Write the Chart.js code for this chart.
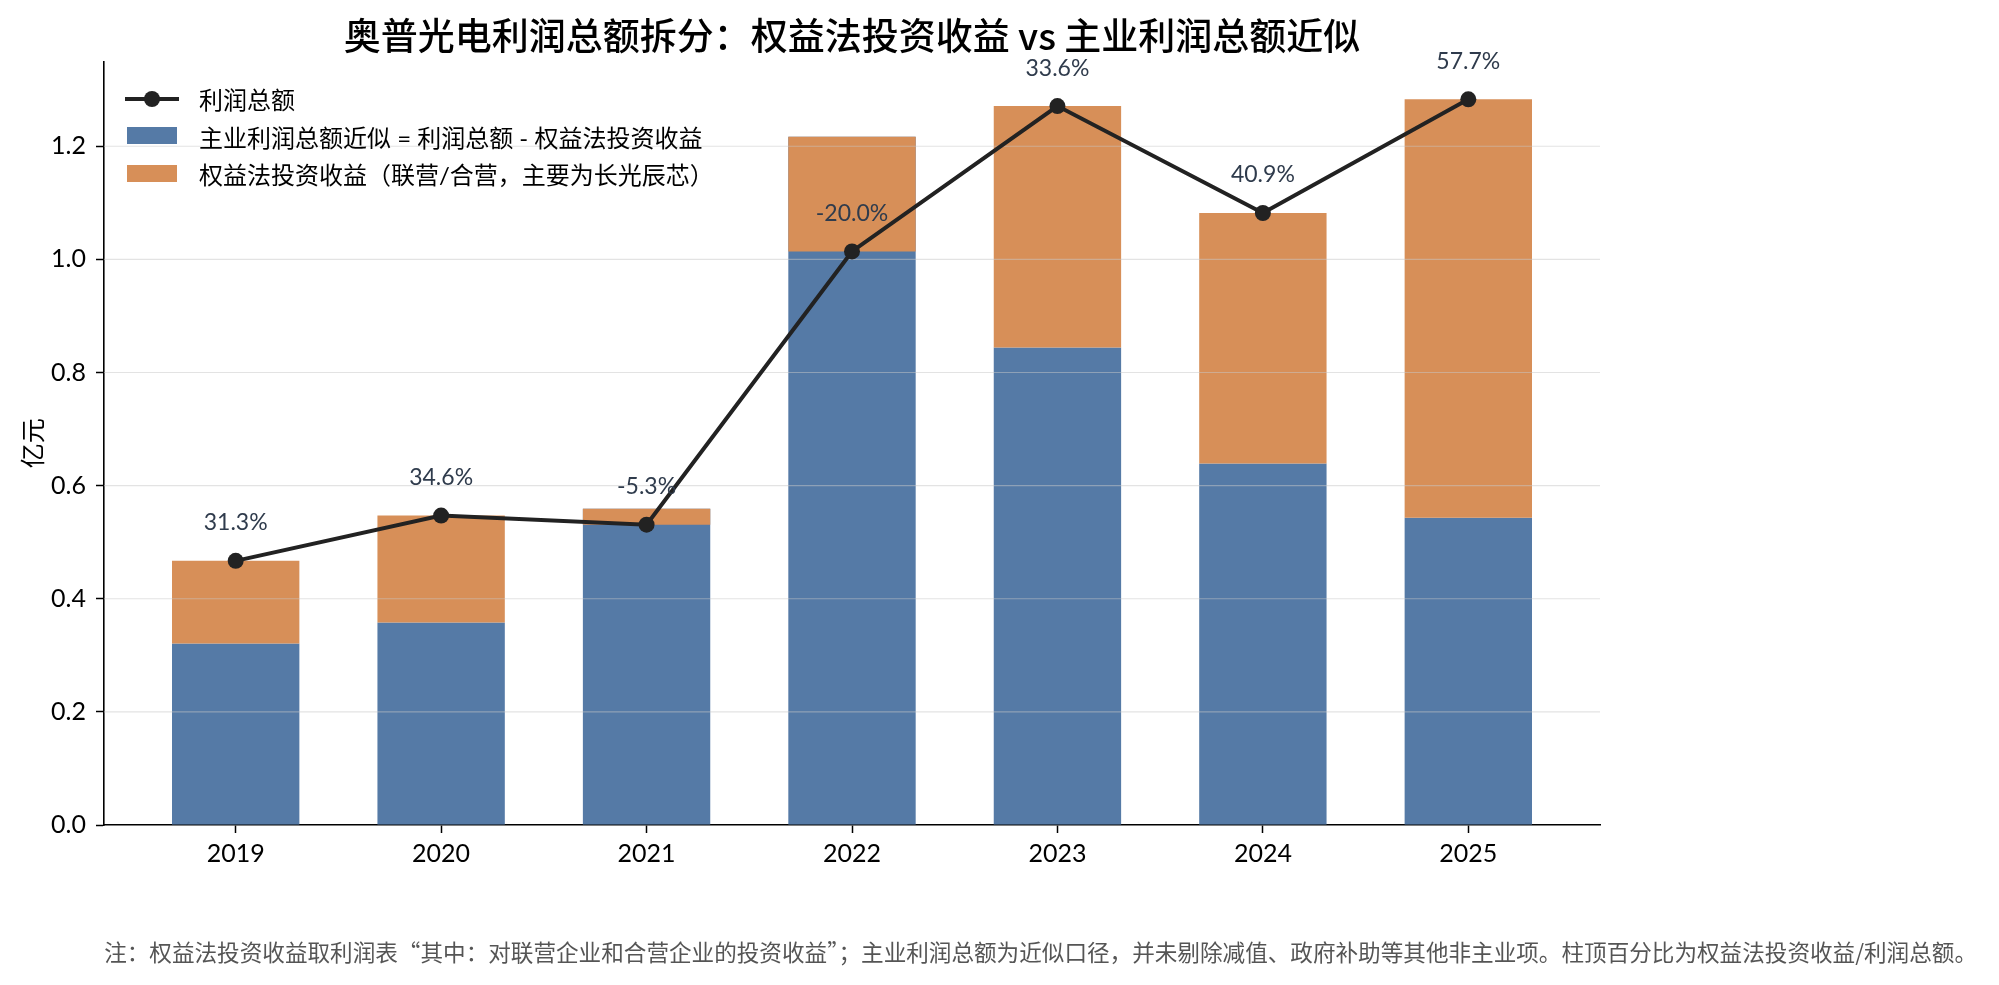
<!DOCTYPE html>
<html lang="zh">
<head>
<meta charset="UTF-8">
<title>奥普光电利润总额拆分</title>
<script src="https://cdn.jsdelivr.net/npm/chart.js"></script>
<style>
  body { margin: 0; background: #fff; }
  .wrap { position: relative; width: 1999px; height: 985px; }
  canvas { display: block; }
  .legend {
    position: absolute; left: 125px; top: 80px;
    font-family: Lato, "Noto Sans CJK SC", sans-serif; font-size: 24px; color: #000;
  }
  .legend .row { display: flex; align-items: center; height: 37.5px; white-space: nowrap; }
  .legend .mark { position: relative; width: 54px; height: 18px; margin-right: 20px; }
  .legend .patch { position: absolute; left: 2px; top: 0; width: 50px; height: 17px; }
  .legend .ln { position: absolute; left: 0; top: 7px; width: 54px; height: 4px; background: #222; }
  .legend .dot { position: absolute; left: 19px; top: 1px; width: 16px; height: 16px; border-radius: 50%; background: #222; }
  .note {
    position: absolute; right: 22px; top: 937px;
    font-family: "Noto Sans CJK SC", sans-serif; font-size: 22.6px; line-height: 30px; color: #555;
    white-space: nowrap;
  }
</style>
</head>
<body>
<div class="wrap">
  <canvas id="chart" width="1999" height="985"></canvas>
  <div class="legend" id="legend"></div>
  <div class="note">注：权益法投资收益取利润表“其中：对联营企业和合营企业的投资收益”；主业利润总额为近似口径，并未剔除减值、政府补助等其他非主业项。柱顶百分比为权益法投资收益/利润总额。</div>
</div>
<script>
const years = ['2019', '2020', '2021', '2022', '2023', '2024', '2025'];
// 亿元
const totalProfit = [0.467, 0.547, 0.531, 1.014, 1.271, 1.082, 1.283];
const coreProfit = [0.321, 0.358, 0.559, 1.217, 0.844, 0.639, 0.543];
const equityIncome = [0.146, 0.189, -0.028, -0.203, 0.427, 0.443, 0.740];
const shareLabels = ['31.3%', '34.6%', '-5.3%', '-20.0%', '33.6%', '40.9%', '57.7%'];
const yTicks = [0, 0.2, 0.4, 0.6, 0.8, 1.0, 1.2];
const seriesNames = ['利润总额', '主业利润总额近似 = 利润总额 - 权益法投资收益', '权益法投资收益（联营/合营，主要为长光辰芯）'];

const BLUE = '#557aa6';
const ORANGE = '#d78f58';
const LINE = '#222222';
const FONT = 'Lato, "Noto Sans CJK SC", sans-serif';

// legend
const marks = [
  '<div class="ln"></div><div class="dot"></div>',
  '<div class="patch" style="background:' + BLUE + '"></div>',
  '<div class="patch" style="background:' + ORANGE + '"></div>'
];
document.getElementById('legend').innerHTML = seriesNames
  .map((name, i) => '<div class="row"><div class="mark">' + marks[i] + '</div><span>' + name + '</span></div>')
  .join('');

// grid lines over the bars, under the line
const gridOverBars = {
  id: 'gridOverBars',
  afterDatasetDraw(chart, args) {
    if (args.index !== 2) return;
    const { ctx, chartArea, scales: { y } } = chart;
    ctx.save();
    ctx.strokeStyle = 'rgba(200,200,200,0.5)';
    ctx.lineWidth = 1.2;
    y.ticks.forEach(t => {
      if (t.value === 0) return;
      const py = y.getPixelForValue(t.value);
      ctx.beginPath();
      ctx.moveTo(chartArea.left, py);
      ctx.lineTo(chartArea.right, py);
      ctx.stroke();
    });
    ctx.restore();
  }
};

const shareLabelPlugin = {
  id: 'shareLabels',
  afterDatasetsDraw(chart) {
    const { ctx } = chart;
    const meta = chart.getDatasetMeta(0);
    ctx.save();
    ctx.font = '23px ' + FONT;
    ctx.fillStyle = '#2f3b4c';
    ctx.textAlign = 'center';
    ctx.textBaseline = 'middle';
    meta.data.forEach((pt, i) => ctx.fillText(shareLabels[i], pt.x, pt.y - 38));
    ctx.restore();
  }
};

new Chart(document.getElementById('chart'), {
  data: {
    datasets: [
      {
        type: 'line',
        label: seriesNames[0],
        data: totalProfit.map((v, i) => ({ x: i, y: v })),
        borderColor: LINE,
        borderWidth: 4,
        pointRadius: 8,
        pointBackgroundColor: LINE,
        pointBorderWidth: 0,
        tension: 0,
        order: 0
      },
      {
        type: 'bar',
        label: seriesNames[1],
        data: coreProfit.map((v, i) => ({ x: i, y: [0, v] })),
        backgroundColor: BLUE,
        order: 2
      },
      {
        type: 'bar',
        label: seriesNames[2],
        data: equityIncome.map((v, i) => ({ x: i, y: [coreProfit[i], coreProfit[i] + v] })),
        backgroundColor: ORANGE,
        order: 1
      }
    ]
  },
  options: {
    responsive: false,
    animation: false,
    layout: { padding: { left: 0, right: 399, top: 0, bottom: 0 } },
    datasets: {
      bar: { grouped: false, categoryPercentage: 1, barPercentage: 0.62 }
    },
    plugins: {
      legend: { display: false },
      tooltip: { enabled: false },
      title: {
        display: true,
        fullSize: false,
        text: '奥普光电利润总额拆分：权益法投资收益 vs 主业利润总额近似',
        font: { family: '"Noto Sans CJK SC", sans-serif', size: 37, weight: 500 },
        color: '#000',
        padding: { top: 14, bottom: 3 }
      }
    },
    scales: {
      x: {
        type: 'linear',
        min: -0.641,
        max: 6.641,
        offset: false,
        z: 1,
        afterBuildTicks: s => { s.ticks = years.map((_, i) => ({ value: i })); },
        afterFit: s => { s.height = 160; },
        grid: { offset: false, drawOnChartArea: false, drawTicks: true, tickLength: 8, tickWidth: 1.5, tickColor: '#000' },
        border: { color: '#000', width: 1.6 },
        ticks: {
          callback: v => years[v],
          font: { family: FONT, size: 25 },
          color: '#000',
          padding: 6,
          maxRotation: 0,
          autoSkip: false
        }
      },
      y: {
        min: 0,
        max: 1.35,
        afterBuildTicks: s => { s.ticks = yTicks.map(v => ({ value: v })); },
        afterFit: s => { s.width = 104; },
        grid: { drawOnChartArea: false, drawTicks: true, tickLength: 8, tickWidth: 1.5, tickColor: '#000' },
        border: { color: '#000', width: 1.6 },
        ticks: {
          callback: v => v.toFixed(1),
          font: { family: FONT, size: 25 },
          color: '#000',
          padding: 10
        },
        title: {
          display: true,
          text: '亿元',
          font: { family: FONT, size: 25 },
          color: '#000',
          padding: { top: 19, bottom: 0 }
        }
      }
    }
  },
  plugins: [gridOverBars, shareLabelPlugin]
});
</script>
</body>
</html>
